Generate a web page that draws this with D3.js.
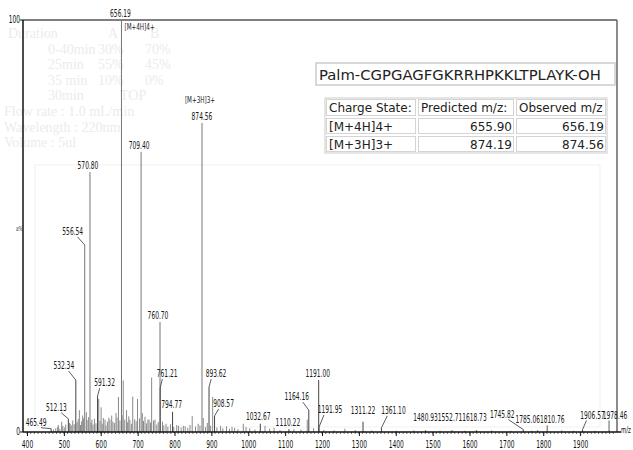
<!DOCTYPE html>
<html>
<head>
<meta charset="utf-8">
<script src="https://cdn.jsdelivr.net/npm/d3@7/dist/d3.min.js"></script>
<style>
  body { margin: 0; background: #fff; }
  svg text { font-family: "DejaVu Sans Condensed", "Liberation Sans", sans-serif; }
  .tbl text { font-family: "DejaVu Sans", Verdana, sans-serif; }
  .ghost text { font-family: "Liberation Serif", "DejaVu Serif", serif; }
</style>
</head>
<body>
<div id="chart"></div>
<script>
// Labelled peaks (m/z, relative abundance %)
var peakMz = [465.49, 512.13, 532.34, 556.54, 570.80, 591.32, 656.19, 709.40, 760.70, 761.21,
  794.77, 874.56, 893.62, 908.57, 1032.67, 1110.22, 1164.16, 1191.00, 1191.95, 1311.22,
  1361.10, 1480.93, 1552.71, 1618.73, 1745.82, 1785.06, 1810.76, 1906.57, 1978.46];
var peakIntensity = [0.8, 3.2, 12.6, 45.4, 63.1, 8.7, 100, 68, 26.7, 10.7,
  4.9, 75, 10.9, 3.9, 2, 0.7, 5.3, 12.6, 1.2, 2.5,
  1, 0.4, 0.4, 0.4, 0.6, 0.4, 0.4, 0.6, 0.6];

// Ion annotations
var ionNotes = [["656.19", "[M+4H]4+"], ["874.56", "[M+3H]3+"]];

// Unlabelled peaks and baseline noise [m/z, %]
var minorPeaks = [
  [472, 0.6], [478, 0.9], [483, 1.2], [485, 1.7], [489, 0.8], [494, 2.5], [497, 1.5], [501, 1.1],
  [505, 1.8], [515, 2.2], [517, 2.0], [520, 1.6], [524, 2.8], [528, 1.9], [536, 2.4], [539, 3.1],
  [542, 5.3], [545, 1.7], [548, 2.6], [551, 4.0], [553, 3.3], [561, 4.8], [563, 2.9], [567, 3.6],
  [574, 2.3], [576, 3.0], [579, 1.8], [583, 3.2], [587, 2.1], [594.5, 8.0], [598, 2.7], [601, 6.0],
  [604, 2.0], [607, 3.4], [611.5, 3.0], [614, 1.6], [618, 2.5], [622, 3.5], [625, 3.0], [629.7, 4.0],
  [633, 2.5], [637, 2.2], [641.4, 4.6], [644, 3.5], [648, 8.5], [652, 2.8], [658, 4.1], [661, 12.5],
  [665, 3.0], [670, 5.3], [673, 2.4], [676, 3.8], [679, 3.0], [683, 2.0], [686.7, 8.6], [692, 3.1],
  [696, 2.6], [699.7, 8.0], [705, 3.3], [712.7, 4.6], [716, 2.7], [720, 3.7], [724, 2.1], [728, 3.0],
  [731, 3.0], [735, 2.3], [738, 13.2], [743, 2.8], [747, 3.0], [752, 1.8], [756, 2.4], [767.5, 2.5],
  [771, 1.6], [777, 2.0], [782, 1.3], [789, 1.9], [798, 1.2], [806, 1.7], [811, 1.5], [818, 1.1],
  [824, 1.5], [829, 1.4], [836, 1.0], [842, 1.7], [848, 3.9], [857, 1.3], [864, 2.0], [869, 1.6],
  [878, 3.4], [884, 1.2], [889, 2.2], [898, 1.5], [903.5, 8.5], [915, 1.1], [925, 1.5], [931, 0.9],
  [941, 1.4], [949, 0.8], [956, 1.2], [963, 1.0], [972, 0.7], [986.6, 2.0], [994, 1.2], [1004, 0.9],
  [1018, 0.6], [1045.5, 1.5], [1058, 0.8], [1070, 1.0], [1086, 0.5], [1124, 0.7], [1143, 0.6],
  [1160, 3.0], [1177, 0.9], [1205, 0.5], [1233, 0.4], [1262, 0.8], [1290, 0.5], [1335, 0.4],
  [1402, 0.3], [1449, 0.4], [1520, 0.3], [1587, 0.3], [1660, 0.4], [1712, 0.3], [1768, 0.3],
  [1850, 0.4], [1882, 0.3], [1940, 0.3]
];

// Inset table
var sequence = "Palm-CGPGAGFGKRRHPKKLTPLAYK-OH";
var tableHeader = ["Charge State:", "Predicted m/z:", "Observed m/z"];
var chargeStates = ["[M+4H]4+", "[M+3H]3+"];
var predictedMz = ["655.90", "874.19"];
var observedMz = ["656.19", "874.56"];

// Faint show-through text from the scanned page behind the spectrum
var ghostLines = [
  ["Duration", "A", "B"], ["0-40min", "30%", "70%"], ["25min", "55%", "45%"],
  ["35 min", "10%", "0%"], ["30min", "", "TOP"]
];
var ghostNotes = ["Flow rate  : 1.0 mL/min", "Wavelength  : 220nm", "Volume  : 5ul"];

var xTicks = [400, 500, 600, 700, 800, 900, 1000, 1100, 1200, 1300, 1400, 1500, 1600, 1700, 1800, 1900];

// label placement: [dx, dy, leader] relative to peak top (label centre / baseline)
var labelNudge = {
  "465.49": [-15, -3, 1], "512.13": [-12, -8, 1], "532.34": [-12, -11, 1], "556.54": [-12, -10, 1],
  "570.80": [-2, -3, 0], "591.32": [7, -10, 1], "656.19": [-1, -3, 0], "709.40": [-2, -3, 0],
  "760.70": [-2, -3, 0], "761.21": [7, -11, 1], "794.77": [-1, -4, 0], "874.56": [0, -3, 0],
  "893.62": [7, -10, 1], "908.57": [9, -9, 1], "1032.67": [-2, -4, 0], "1110.22": [-1, -3, 0],
  "1164.16": [-12, -10, 1], "1191.00": [-1, -3, 0], "1191.95": [11, -14, 1], "1311.22": [0, -8, 0],
  "1361.10": [12, -14, 1], "1480.93": [0, -9, 0], "1552.71": [-2, -9, 0], "1618.73": [-2, -9, 0],
  "1745.82": [-21, -12, 1], "1785.06": [-10, -7, 0], "1810.76": [5, -7, 1], "1906.57": [10, -11, 1],
  "1978.46": [6, -11, 1]
};

var width = 633, height = 450;
var plotLeft = 23, plotTop = 20, plotRight = 617, plotBottom = 432;
var squeeze = 0.66; // the spectrum software uses a very narrow font

function narrow(t) {
  t.each(function() {
    var w = this.getComputedTextLength();
    d3.select(this).attr("textLength", w * squeeze).attr("lengthAdjust", "spacingAndGlyphs");
  });
  return t;
}

var svg = d3.select("#chart").append("svg")
  .attr("width", width)
  .attr("height", height);

svg.append("rect").attr("width", width).attr("height", height).attr("fill", "#fff");

var x = d3.scaleLinear().domain([400, 2000]).range([27, 617]);
var y = d3.scaleLinear().domain([0, 100]).range([plotBottom, plotTop]);

// ghost page behind
var ghost = svg.append("g").attr("class", "ghost").attr("fill", "#ececec").style("font-size", "14px");
ghostLines.forEach(function(row, i) {
  row.forEach(function(t, j) {
    ghost.append("text")
      .attr("x", i == 0 ? [8, 108, 150][j] : [48, 98, 145][j] + (j == 2 && i == 4 ? -25 : 0))
      .attr("y", 38 + i * 15.5)
      .text(t);
  });
});
ghostNotes.forEach(function(t, i) {
  ghost.append("text").attr("x", 4).attr("y", 116 + i * 15.5).text(t);
});
svg.append("rect")
  .attr("x", 35).attr("y", 165).attr("width", 565).attr("height", 262)
  .attr("fill", "none").attr("stroke", "#f1f1f1");

// frame
svg.append("line")
  .attr("x1", plotLeft).attr("x2", plotRight).attr("y1", plotTop).attr("y2", plotTop)
  .attr("stroke", "#555").attr("stroke-width", 1.5);
svg.append("line")
  .attr("x1", plotRight).attr("x2", plotRight).attr("y1", plotTop).attr("y2", plotBottom)
  .attr("stroke", "#666").attr("stroke-width", 1.5);

// minor peaks
svg.append("g").selectAll("line")
  .data(minorPeaks)
  .enter().append("line")
  .attr("x1", function(d) { return x(d[0]); })
  .attr("x2", function(d) { return x(d[0]); })
  .attr("y1", y(0))
  .attr("y2", function(d) { return y(d[1]); })
  .attr("stroke", "#8a8a8a")
  .attr("stroke-width", 1);

var peaks = peakMz.map(function(m, i) { return { mz: m, v: peakIntensity[i], label: m.toFixed(2) }; });

svg.append("g").selectAll("line")
  .data(peaks)
  .enter().append("line")
  .attr("x1", function(d) { return x(d.mz); })
  .attr("x2", function(d) { return x(d.mz); })
  .attr("y1", y(0))
  .attr("y2", function(d) { return y(d.v); })
  .attr("stroke", function(d) { return d.v > 20 ? "#777" : "#444"; })
  .attr("stroke-width", 1);

// peak labels + leader lines
var labels = svg.append("g").style("font-size", "10px").attr("fill", "#1a1a1a");
peaks.forEach(function(d) {
  var n = labelNudge[d.label];
  var px = x(d.mz), py = y(d.v);
  var lx = px + n[0], ly = py + n[1];
  var t = labels.append("text")
    .attr("x", lx).attr("y", ly)
    .attr("text-anchor", "middle")
    .text(d.label);
  narrow(t);
  if (n[2]) {
    var w = t.node().getComputedTextLength() * squeeze;
    var sx = Math.max(lx - w / 2 + 2, Math.min(lx + w / 2 - 2, px));
    labels.append("line")
      .attr("x1", sx).attr("y1", ly + 2)
      .attr("x2", px).attr("y2", py)
      .attr("stroke", "#333").attr("stroke-width", 0.8);
  }
});

// ion annotations
ionNotes.forEach(function(n) {
  var p = peaks.find(function(d) { return d.label == n[0]; });
  var left = n[1] == "[M+4H]4+";
  var t = labels.append("text")
    .attr("x", x(p.mz) + (left ? 3 : -2))
    .attr("y", y(p.v) + (left ? 10 : -20))
    .attr("text-anchor", left ? "start" : "middle")
    .style("font-size", "9.5px")
    .text(n[1]);
  narrow(t);
});

// y axis
svg.append("line")
  .attr("x1", plotLeft).attr("x2", plotLeft).attr("y1", plotTop).attr("y2", plotBottom)
  .attr("stroke", "#111").attr("stroke-width", 1.5);
[0, 100].forEach(function(v) {
  svg.append("line").attr("x1", plotLeft - 3).attr("x2", plotLeft).attr("y1", y(v)).attr("y2", y(v))
    .attr("stroke", "#111");
  narrow(svg.append("text").attr("x", plotLeft - 3).attr("y", y(v) + 3)
    .attr("text-anchor", "end").style("font-size", "10px").attr("fill", "#111")
    .text(v));
});
narrow(svg.append("text").attr("x", 16).attr("y", 231).style("font-size", "7px").attr("fill", "#333").text("a%"));

// x axis
var xAxis = d3.axisBottom(x)
  .tickValues(xTicks)
  .tickSize(4)
  .tickFormat(d3.format("d"));
var gx = svg.append("g")
  .attr("transform", "translate(0," + plotBottom + ")")
  .call(xAxis);
gx.select(".domain").remove();
gx.selectAll(".tick line").attr("stroke", "#111");
gx.selectAll(".tick text").style("font-size", "10px").attr("fill", "#111").attr("dy", "0.85em")
  .attr("font-family", null);
narrow(gx.selectAll(".tick text"));
gx.append("g").selectAll("line")
  .data(d3.range(400, 2000, 10))
  .enter().append("line")
  .attr("x1", function(d) { return x(d); })
  .attr("x2", function(d) { return x(d); })
  .attr("y1", 0).attr("y2", 2)
  .attr("stroke", "#333").attr("stroke-width", 0.7);
gx.append("line").attr("x1", plotLeft).attr("x2", 621).attr("y1", 0).attr("y2", 0)
  .attr("stroke", "#111").attr("stroke-width", 1.5);
narrow(svg.append("text").attr("x", 621).attr("y", 433).style("font-size", "9px").attr("fill", "#111").text("m/z"));

// inset: sequence + table
var tbl = svg.append("g").attr("class", "tbl").attr("fill", "#222");
tbl.append("rect")
  .attr("x", 316).attr("y", 63).attr("width", 299).attr("height", 22)
  .attr("fill", "#fff").attr("stroke", "#ccc").attr("stroke-width", 1.5);
tbl.append("text").attr("x", 319).attr("y", 80).style("font-size", "14.8px").text(sequence);

var colX = [325, 417, 515, 607];
var rowY = [98, 117, 135, 153];
var rows = [tableHeader].concat(chargeStates.map(function(c, i) { return [c, predictedMz[i], observedMz[i]]; }));
tbl.append("rect").attr("x", colX[0]).attr("y", rowY[0])
  .attr("width", colX[3] - colX[0]).attr("height", rowY[3] - rowY[0])
  .attr("fill", "#fff").attr("stroke", "#ccc");
rows.forEach(function(r, i) {
  r.forEach(function(t, j) {
    tbl.append("rect")
      .attr("x", colX[j] + 1.5).attr("y", rowY[i] + 1.5)
      .attr("width", colX[j + 1] - colX[j] - 3).attr("height", rowY[i + 1] - rowY[i] - 3)
      .attr("fill", "none").attr("stroke", "#d4d4d4");
    var right = i > 0 && j > 0;
    tbl.append("text")
      .attr("x", right ? colX[j + 1] - 3 : colX[j] + 4)
      .attr("y", rowY[i] + 14)
      .attr("text-anchor", right ? "end" : "start")
      .style("font-size", "12px")
      .text(t);
  });
});
</script>
</body>
</html>
